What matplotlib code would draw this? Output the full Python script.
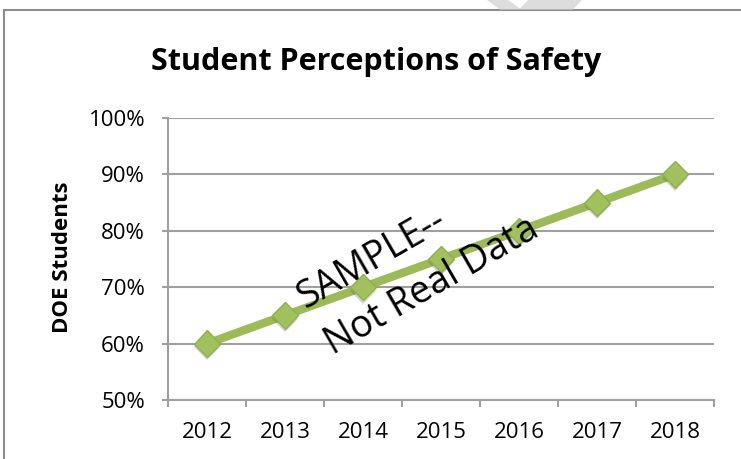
import matplotlib.pyplot as plt
from matplotlib.patches import Rectangle, Polygon
from matplotlib.ticker import FixedLocator, PercentFormatter
import matplotlib.patheffects as pe

years = ["2012", "2013", "2014", "2015", "2016", "2017", "2018"]
safety = [60, 65, 70, 75, 80, 85, 90]

green = "#9bbb59"
grid_gray = "#a0a0a0"

plt.rcParams['font.family'] = ['Open Sans', 'DejaVu Sans']

W, H = 741, 459
fig = plt.figure(figsize=(W / 100, H / 100), dpi=100)
ax = fig.add_axes([168 / W, 1 - 400 / H, (714 - 168) / W, (400 - 118) / H])

# chart frame and the faint page mark above it
fig.patches.append(Rectangle((4 / W, -0.1), 1.2, 1 - 10 / H + 0.1, transform=fig.transFigure,
                             fill=False, edgecolor="#8c8c8c", linewidth=1.5))
mark = [(487, 0), (508, 0), (520, 8.5), (528, 0), (582, 0), (573, 9.5), (500, 9.5)]
fig.patches.append(Polygon([(px / W, 1 - py / H) for px, py in mark], closed=True,
                           transform=fig.transFigure, facecolor="#dddddd", edgecolor="none"))

x = range(len(years))
ax.plot(x, safety, color=green, linewidth=6, zorder=3, solid_capstyle="butt")
ax.plot(x, safety, linestyle="none", marker="D", markersize=13.5,
        markerfacecolor="#a0c15e", markeredgecolor="#8fb04f", markeredgewidth=1, zorder=4,
        path_effects=[pe.withSimplePatchShadow(offset=(0, -2.5), shadow_rgbFace="#555555", alpha=0.25)])

ax.set_xlim(-0.5, len(years) - 0.5)
ax.set_ylim(50, 100)
ax.set_yticks(range(50, 101, 10))
ax.yaxis.set_major_formatter(PercentFormatter(decimals=0))
ax.set_xticks(list(x))
ax.set_xticklabels(years)
ax.xaxis.set_minor_locator(FixedLocator([i - 0.5 for i in range(len(years) + 1)]))
ax.tick_params(axis="x", which="major", length=0, pad=16, labelsize=16)
ax.tick_params(axis="x", which="minor", length=5, width=1.5, color=grid_gray)
ax.tick_params(axis="y", length=4.5, width=1.5, color=grid_gray, labelsize=16, pad=12)

ax.grid(axis="y", color=grid_gray, linewidth=1.5)
ax.set_axisbelow(True)
for s in ["top", "right"]:
    ax.spines[s].set_visible(False)
for s in ["left", "bottom"]:
    ax.spines[s].set_color(grid_gray)
    ax.spines[s].set_linewidth(1.5)

fig.text(62 / W, 1 - 257 / H, "DOE Students", rotation=90, ha="center", va="center",
         fontsize=16, fontweight="bold")
fig.text(376 / W, 1 - 70 / H, "Student Perceptions of Safety", ha="center", va="baseline",
         fontsize=22, fontweight="bold")

# watermark, one line at a time, left aligned along a 30 degree baseline
for text, (px, py) in [("SAMPLE--", (305, 309)), ("Not Real Data", (333, 355))]:
    fig.text(px / W, 1 - py / H, text, ha="left", va="baseline", rotation=30,
             rotation_mode="anchor", fontsize=27, zorder=5)

fig.savefig("out.png", dpi=100)
